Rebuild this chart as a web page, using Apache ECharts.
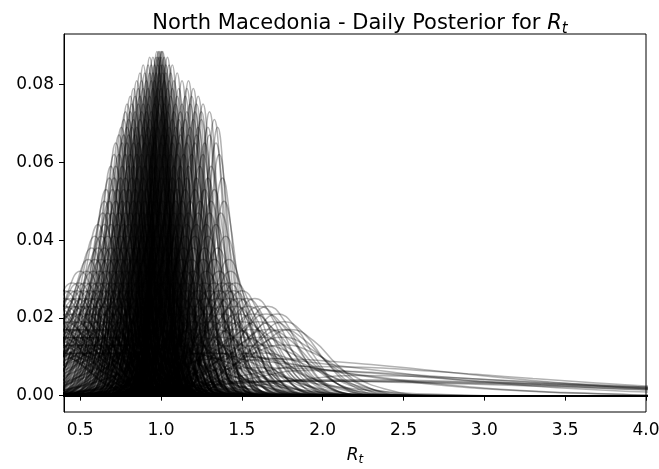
<!DOCTYPE html>
<html>
<head>
<meta charset="utf-8">
<script src="https://cdn.jsdelivr.net/npm/echarts@6/dist/echarts.min.js"></script>
<style>
html,body{margin:0;padding:0;background:#fff;}
#chart{width:659px;height:469px;}
</style>
</head>
<body>
<div id="chart"></div>
<script>
// Axis ticks
const xTicks = [0.5, 1.0, 1.5, 2.0, 2.5, 3.0, 3.5, 4.0];
const yTicks = [0.00, 0.02, 0.04, 0.06, 0.08];

// Posterior grid range (R_t from 0 to 12)
const rGridMin = 0;
const rGridMax = 12;

// Bell-shaped daily posteriors: sample positions (in widths from the peak)
const bellOffsets = [-4, -3, -2, -1.25, -0.6, 0, 0.6, 1.25, 2, 3, 4];
// Width (R_t units) of each bell class
const bellWidth = [
  .0452, .046, .047, .0482, .0494, .0506, .052, .0533, .0548, .0563, .058, .0597,
  .0615, .0645, .0678, .0714, .0755, .08, .085, .091, .0976, .105, .114, .125,
  .138, .148, .16, .174, .19, .21, .235, .267, .31, .36
];
// Posterior values of each bell class
const bellValues = [
  [0, .0010, .0119, .0405, .0739, .0885, .0739, .0405, .0119, .0010, 0],
  [0, .0010, .0117, .0398, .0726, .0870, .0726, .0398, .0117, .0010, 0],
  [0, .0009, .0115, .0389, .0710, .0850, .0710, .0389, .0115, .0009, 0],
  [0, .0009, .0112, .0380, .0693, .0830, .0693, .0380, .0112, .0009, 0],
  [0, .0009, .0109, .0371, .0676, .0810, .0676, .0371, .0109, .0009, 0],
  [0, .0009, .0107, .0362, .0660, .0790, .0660, .0362, .0107, .0009, 0],
  [0, .0008, .0104, .0353, .0643, .0770, .0643, .0353, .0104, .0008, 0],
  [0, .0008, .0101, .0344, .0626, .0750, .0626, .0344, .0101, .0008, 0],
  [0, .0008, .0099, .0334, .0610, .0730, .0610, .0334, .0099, .0008, 0],
  [0, .0008, .0096, .0325, .0593, .0710, .0593, .0325, .0096, .0008, 0],
  [0, .0008, .0093, .0316, .0576, .0690, .0576, .0316, .0093, .0008, 0],
  [0, .0007, .0090, .0307, .0559, .0670, .0559, .0307, .0090, .0007, 0],
  [0, .0007, .0088, .0298, .0543, .0650, .0543, .0298, .0088, .0007, 0],
  [0, .0007, .0084, .0284, .0518, .0620, .0518, .0284, .0084, .0007, 0],
  [0, .0006, .0080, .0270, .0493, .0590, .0493, .0270, .0080, .0006, 0],
  [0, .0006, .0076, .0256, .0468, .0560, .0468, .0256, .0076, .0006, 0],
  [0, .0006, .0072, .0243, .0443, .0530, .0443, .0243, .0072, .0006, 0],
  [0, .0006, .0068, .0229, .0418, .0500, .0418, .0229, .0068, .0006, 0],
  [0, .0005, .0063, .0215, .0392, .0470, .0392, .0215, .0063, .0005, 0],
  [0, .0005, .0059, .0202, .0367, .0440, .0367, .0202, .0059, .0005, 0],
  [0, .0005, .0055, .0188, .0342, .0410, .0342, .0188, .0055, .0005, 0],
  [0, .0004, .0051, .0174, .0317, .0380, .0317, .0174, .0051, .0004, 0],
  [0, .0004, .0047, .0160, .0292, .0350, .0292, .0160, .0047, .0004, 0],
  [0, .0004, .0043, .0147, .0267, .0320, .0267, .0147, .0043, .0004, 0],
  [0, .0003, .0039, .0133, .0242, .0290, .0242, .0133, .0039, .0003, 0],
  [0, .0003, .0036, .0124, .0225, .0270, .0225, .0124, .0036, .0003, 0],
  [0, .0003, .0034, .0115, .0209, .0250, .0209, .0115, .0034, .0003, 0],
  [0, .0003, .0031, .0105, .0192, .0230, .0192, .0105, .0031, .0003, 0],
  [0, .0002, .0028, .0096, .0175, .0210, .0175, .0096, .0028, .0002, 0],
  [0, .0002, .0026, .0087, .0159, .0190, .0159, .0087, .0026, .0002, 0],
  [0, .0002, .0023, .0078, .0142, .0170, .0142, .0078, .0023, .0002, 0],
  [0, .0002, .0020, .0069, .0125, .0150, .0125, .0069, .0020, .0002, 0],
  [0, .0001, .0018, .0060, .0109, .0130, .0109, .0060, .0018, .0001, 0],
  [0, .0001, .0015, .0050, .0092, .0110, .0092, .0050, .0015, .0001, 0]
];
// Peak location (R_t) of each daily posterior, grouped by bell class
const bellPeaks = [
  [.975, .985, .99, 1.0, 1.005, 1.01],
  [.93, .95, .97, .98, .99, 1.0, 1.02, 1.04],
  [.89, .92, .94, .96, .98, 1.0, 1.01, 1.03, 1.05, 1.07],
  [.87, .90, .93, .95, .97, .99, 1.01, 1.03, 1.06, 1.10],
  [.85, .88, .91, .94, .96, .99, 1.02, 1.05, 1.08, 1.13, 1.17],
  [.83, .86, .89, .92, .95, .98, 1.0, 1.04, 1.07, 1.11, 1.16, 1.20],
  [.81, .84, .87, .90, .93, .97, 1.0, 1.03, 1.06, 1.10, 1.15, 1.19, 1.23],
  [.79, .82, .86, .89, .92, .96, .99, 1.02, 1.05, 1.09, 1.13, 1.18, 1.22, 1.26],
  [.78, .81, .84, .88, .91, .94, .98, 1.01, 1.04, 1.08, 1.12, 1.16, 1.21, 1.25, 1.30],
  [.77, .80, .83, .87, .90, .93, .97, 1.0, 1.03, 1.07, 1.11, 1.15, 1.20, 1.25, 1.33],
  [.755, .79, .82, .85, .89, .92, .95, .98, 1.02, 1.05, 1.09, 1.13, 1.18, 1.23, 1.29, 1.35],
  [.74, .77, .80, .84, .88, .91, .94, .97, 1.01, 1.04, 1.08, 1.12, 1.17, 1.22, 1.30],
  [.72, .76, .79, .83, .86, .90, .93, .96, 1.0, 1.03, 1.07, 1.11, 1.16, 1.21, 1.27, 1.34],
  [.71, .74, .78, .81, .85, .88, .92, .95, .99, 1.02, 1.06, 1.10, 1.14, 1.19, 1.26, 1.36],
  [.69, .72, .76, .80, .83, .87, .90, .94, .97, 1.01, 1.04, 1.08, 1.12, 1.17, 1.24, 1.31],
  [.68, .71, .75, .78, .82, .85, .89, .93, .96, 1.0, 1.03, 1.07, 1.11, 1.16, 1.22, 1.29, 1.38],
  [.66, .70, .73, .77, .80, .84, .88, .91, .95, .98, 1.02, 1.06, 1.10, 1.15, 1.21, 1.27, 1.33],
  [.65, .68, .72, .76, .79, .83, .86, .90, .94, .97, 1.01, 1.05, 1.09, 1.13, 1.18, 1.24, 1.31, 1.39],
  [.64, .67, .70, .74, .78, .81, .85, .89, .92, .96, 1.0, 1.04, 1.08, 1.12, 1.17, 1.23, 1.30, 1.37],
  [.61, .65, .69, .73, .77, .80, .84, .88, .91, .95, .99, 1.03, 1.07, 1.11, 1.16, 1.22, 1.28, 1.34],
  [.59, .63, .67, .71, .75, .79, .83, .87, .90, .94, .98, 1.02, 1.06, 1.10, 1.15, 1.21, 1.29, 1.40],
  [.57, .61, .65, .69, .73, .77, .81, .85, .89, .93, .97, 1.01, 1.05, 1.09, 1.14, 1.20, 1.27, 1.35],
  [.55, .59, .63, .67, .71, .75, .79, .83, .87, .91, .95, 1.0, 1.04, 1.08, 1.13, 1.19, 1.26, 1.33, 1.42],
  [.50, .54, .58, .62, .66, .70, .74, .78, .82, .86, .90, .95, 1.0, 1.05, 1.10, 1.15, 1.20, 1.28, 1.36, 1.43],
  [.45, .49, .53, .57, .61, .65, .69, .73, .77, .81, .86, .91, .97, 1.03, 1.09, 1.15, 1.21, 1.27, 1.33, 1.38, 1.42, 1.46],
  [.40, .44, .48, .52, .56, .60, .64, .68, .72, .77, .82, .88, .95, 1.02, 1.09, 1.16, 1.23, 1.30, 1.36, 1.41, 1.45, 1.50],
  [.35, .40, .44, .48, .52, .56, .60, .65, .70, .75, .81, .88, .96, 1.04, 1.12, 1.20, 1.28, 1.35, 1.42, 1.48, 1.53, 1.58],
  [.30, .35, .40, .45, .49, .53, .57, .62, .67, .72, .78, .85, .93, 1.02, 1.11, 1.20, 1.29, 1.38, 1.46, 1.54, 1.61, 1.66],
  [.30, .36, .42, .47, .52, .57, .62, .68, .74, .81, .89, .98, 1.08, 1.18, 1.28, 1.38, 1.48, 1.57, 1.65, 1.72],
  [.25, .32, .39, .45, .51, .57, .63, .70, .78, .87, .97, 1.08, 1.19, 1.30, 1.40, 1.50, 1.60, 1.69, 1.76],
  [.22, .30, .34, .38, .42, .45, .49, .52, .59, .63, .67, .76, .86, .97, 1.09, 1.21, 1.33, 1.45, 1.56, 1.66, 1.75, 1.80],
  [.20, .30, .35, .40, .44, .48, .52, .56, .60, .65, .70, .75, .86, .98, 1.10, 1.23, 1.36, 1.49, 1.62, 1.75],
  [.20, .26, .32, .38, .44, .50, .56, .62, .68, .74, .80, .93, 1.06, 1.20, 1.34, 1.48, 1.62, 1.76],
  [.25, .32, .40, .47, .55, .62, .70, .77, .85, 1.0, 1.15, 1.30, 1.45, 1.60]
];

// Broad, right-skewed early posteriors: uniform sample step, peak at index 4
const broadPeakIndex = 4;
const broadStep = [0.3, 0.3, 0.35, 0.4, 0.4, 0.35, 0.3, 0.3, 0.35, 0.25, 0.25, 0.3];
const broadValues = [
  [0, .0005, .003, .0075, .0095, .009, .008, .0068, .0055, .0043, .0032, .0023, .0016, .001, .0006, .0003, 0],
  [0, .0008, .004, .0085, .0100, .0092, .0077, .0062, .0047, .0035, .0025, .0017, .0011, .0007, .0004, 0],
  [0, .0006, .0025, .0055, .0075, .0073, .0065, .0055, .0044, .0034, .0025, .0018, .0012, .0008, .0005, .0002, 0],
  [0, .0012, .0028, .0036, .0038, .0037, .0034, .003, .0025, .002, .0015, .0011, .0007, .0004, 0],
  [0, .001, .0025, .0035, .0041, .0040, .0037, .0033, .0028, .0022, .0017, .0012, .0008, .0004, 0],
  [0, .0012, .0035, .006, .0072, .0068, .0058, .0047, .0037, .0028, .002, .0014, .0009, .0005, .0002, 0],
  [0, .0015, .0048, .0085, .011, .0098, .0075, .0054, .0037, .0024, .0015, .0009, .0005, .0002, 0],
  [0, .0005, .002, .0048, .0065, .0062, .0055, .0047, .0039, .0031, .0024, .0018, .0013, .0009, .0006, .0003, 0],
  [0, .0008, .0022, .004, .0052, .005, .0044, .0037, .003, .0023, .0016, .001, .0006, .0003, 0],
  [0, .0015, .005, .0095, .012, .0105, .0075, .0048, .0028, .0015, .0007, .0003, 0],
  [0, .002, .006, .011, .013, .011, .007, .0038, .0018, .0007, .0002, 0],
  [0, .001, .0042, .008, .0095, .0085, .0068, .005, .0035, .0023, .0014, .0008, .0004, 0]
];
const broadPeaks = [[1.7], [1.5], [1.9], [1.7, 1.9, 2.1], [2.0], [1.6], [1.3], [1.9], [2.2], [1.0], [0.8], [1.4]];

const FONT = 'DejaVu Sans';
const series = [];
function addCurve(pts) {
  if (pts[0][0] > rGridMin) pts.unshift([rGridMin, 0]);
  pts.push([rGridMax, 0]);
  series.push({
    type: 'line',
    data: pts,
    smooth: 0.5,
    symbol: 'none',
    silent: true,
    animation: false,
    lineStyle: { color: '#000', width: 1.5, opacity: 0.3 }
  });
}
bellValues.forEach(function (vals, c) {
  bellPeaks[c].forEach(function (mu) {
    addCurve(vals.map(function (v, i) { return [mu + bellOffsets[i] * bellWidth[c], v]; }));
  });
});
broadValues.forEach(function (vals, c) {
  broadPeaks[c].forEach(function (mu) {
    addCurve(vals.map(function (v, i) { return [mu + (i - broadPeakIndex) * broadStep[c], v]; }));
  });
});

const chart = echarts.init(document.getElementById('chart'), null, { renderer: 'canvas' });
chart.setOption({
  animation: false,
  backgroundColor: '#fff',
  title: {
    text: '{n|North Macedonia - Daily Posterior for }{r|R}{s|t}',
    left: 355,
    textAlign: 'center',
    top: 6,
    textStyle: {
      fontWeight: 'normal',
      rich: {
        n: { fontFamily: FONT, fontSize: 21, fontWeight: 'normal', color: '#000', lineHeight: 26 },
        r: { fontFamily: FONT, fontSize: 21, fontWeight: 'normal', fontStyle: 'italic', color: '#000', lineHeight: 26 },
        s: { fontFamily: FONT, fontSize: 15, fontWeight: 'normal', fontStyle: 'italic', color: '#000', lineHeight: 15, verticalAlign: 'bottom' }
      }
    }
  },
  grid: { left: 64, right: 13, top: 34, bottom: 57, outerBoundsMode: 'none', containLabel: false, show: true, borderColor: '#000', borderWidth: 1, backgroundColor: 'transparent' },
  xAxis: {
    type: 'value',
    min: 0.4,
    max: 4.0,
    name: '{r|R}{s|t}',
    nameLocation: 'middle',
    nameGap: 34,
    nameTextStyle: {
      rich: {
        r: { fontFamily: FONT, fontSize: 17, fontStyle: 'italic', color: '#000', lineHeight: 20 },
        s: { fontFamily: FONT, fontSize: 12, fontStyle: 'italic', color: '#000', lineHeight: 12, verticalAlign: 'bottom' }
      }
    },
    axisLine: { show: true, lineStyle: { color: '#000', width: 1 } },
    axisTick: { show: true, inside: false, length: 5, customValues: xTicks, lineStyle: { color: '#000', width: 1 } },
    axisLabel: { customValues: xTicks, formatter: function (v) { return v.toFixed(1); }, fontFamily: FONT, fontSize: 17, color: '#000', margin: 10 },
    splitLine: { show: false }
  },
  yAxis: {
    type: 'value',
    min: -0.0042,
    max: 0.0930,
    axisLine: { show: true, lineStyle: { color: '#000', width: 1 } },
    axisTick: { show: true, inside: false, length: 5, customValues: yTicks, lineStyle: { color: '#000', width: 1 } },
    axisLabel: { customValues: yTicks, formatter: function (v) { return v.toFixed(2); }, fontFamily: FONT, fontSize: 17, color: '#000', margin: 10 },
    splitLine: { show: false }
  },
  series: series
});
</script>
</body>
</html>
